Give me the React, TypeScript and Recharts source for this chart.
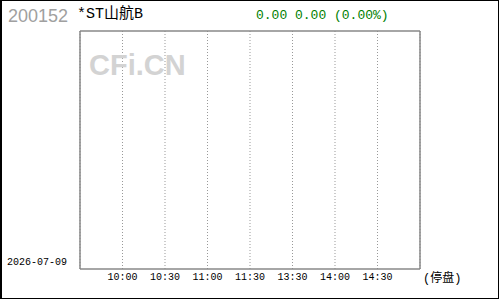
import { LineChart, Line, XAxis, YAxis, CartesianGrid } from 'recharts'

const stockCode = '200152'
const stockName = '*ST山航B'
const quoteText = '0.00 0.00 (0.00%)'
const tradeDate = '2026-07-09'
const statusText = '(停盘)'

// session runs 09:30 .. 15:00, gridlines every half hour
const sessionSlots = [0, 8]
const tickSlots = [1, 2, 3, 4, 5, 6, 7]
const tickLabels = ['10:00', '10:30', '11:00', '11:30', '13:30', '14:00', '14:30']

// suspended: no trades that day, so the session has no prices
const sessionPrices: (number | null)[] = [null, null]

const chartData = sessionSlots.map((slot, i) => ({ slot, price: sessionPrices[i] }))

const monoFont = '"Liberation Mono", "Noto Sans CJK SC", monospace'
const frame = { stroke: '#888', strokeWidth: 1.5 }

function TimeTick(props: any) {
  const { x, payload, index } = props
  return (
    <text x={x} y={277} textAnchor="middle" dominantBaseline="central" fontSize={10} fontFamily={monoFont} fill="#000">
      {tickLabels[index] ?? payload.value}
    </text>
  )
}

export default function App() {
  return (
    <div style={{ position: 'absolute', left: 0, top: 0, width: 500, height: 300, background: '#fff' }}>
      <LineChart
        width={500}
        height={300}
        data={chartData}
        margin={{ top: 30, right: 79, bottom: 0, left: 79 }}
      >
        <CartesianGrid vertical horizontal={false} stroke="#999" strokeDasharray="1 2" />
        <XAxis
          dataKey="slot"
          type="number"
          domain={[sessionSlots[0], sessionSlots[1]]}
          allowDataOverflow
          ticks={tickSlots}
          tick={<TimeTick />}
          tickLine={false}
          axisLine={frame}
          height={31}
          interval={0}
        />
        <XAxis
          xAxisId="top"
          orientation="top"
          dataKey="slot"
          type="number"
          domain={[sessionSlots[0], sessionSlots[1]]}
          allowDataOverflow
          tick={false}
          tickLine={false}
          axisLine={frame}
          height={1}
        />
        <YAxis type="number" domain={[0, 1]} allowDataOverflow tick={false} tickLine={false} axisLine={frame} width={1} />
        <YAxis
          yAxisId="right"
          orientation="right"
          type="number"
          domain={[0, 1]}
          allowDataOverflow
          tick={false}
          tickLine={false}
          axisLine={frame}
          width={1}
        />
        <Line dataKey="price" stroke="#000" dot={false} isAnimationActive={false} />
        <text x={89} y={65} dominantBaseline="central" fontSize={29} fontWeight="bold" fontFamily='"Liberation Sans", Arial, sans-serif' fill="#d3d3d3">
          CFi.CN
        </text>
      </LineChart>

      <div style={{ position: 'absolute', left: 8, top: 6, fontSize: 18, lineHeight: '20px', fontFamily: '"Liberation Sans", Arial, sans-serif', color: '#a0a0a0' }}>
        {stockCode}
      </div>
      <div style={{ position: 'absolute', left: 77, top: 6, fontSize: 15, lineHeight: '18px', fontFamily: monoFont, color: '#000' }}>
        {stockName}
      </div>
      <div style={{ position: 'absolute', left: 256, top: 7, fontSize: 13, lineHeight: '18px', fontFamily: monoFont, color: '#008000', whiteSpace: 'pre' }}>
        {quoteText}
      </div>
      <div style={{ position: 'absolute', left: 7, top: 256, fontSize: 10, lineHeight: '14px', fontFamily: monoFont, color: '#000' }}>
        {tradeDate}
      </div>
      <div style={{ position: 'absolute', left: 423, top: 271, fontSize: 12, lineHeight: '16px', fontFamily: monoFont, color: '#000' }}>
        {statusText}
      </div>
      <div
        style={{
          position: 'absolute',
          left: 0,
          top: 0,
          width: 499,
          height: 299,
          boxSizing: 'border-box',
          borderStyle: 'solid',
          borderColor: '#000',
          borderWidth: '1px 1px 1px 2px',
          pointerEvents: 'none',
        }}
      />
    </div>
  )
}
